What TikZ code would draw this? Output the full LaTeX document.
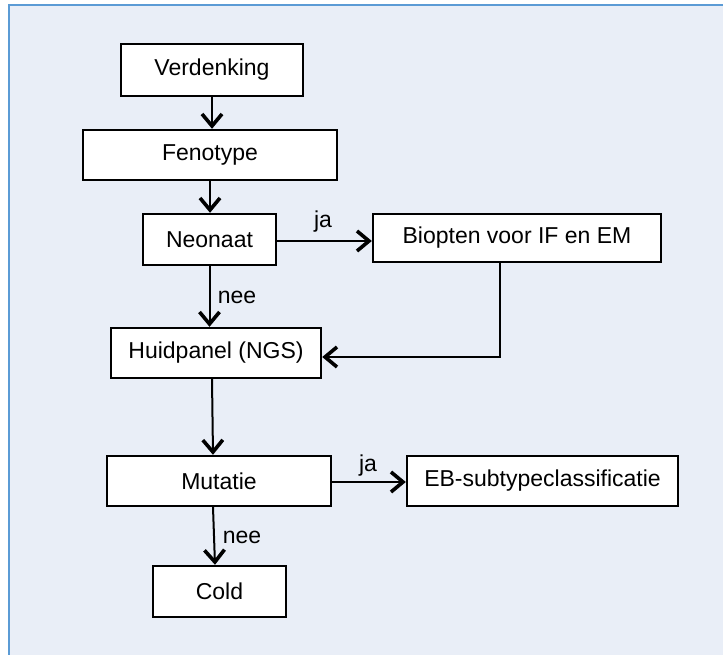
\documentclass[tikz,border=0pt]{standalone}
\usepackage{fontspec}
\setmainfont{Liberation Sans}
\usetikzlibrary{arrows.meta,calc}
\definecolor{bgblue}{RGB}{233,238,247}
\definecolor{frameblue}{RGB}{91,155,213}
\tikzset{
  box/.style={draw=black, fill=white, line width=2.4pt, rectangle, inner sep=0pt,
    font=\fontsize{23}{27}\selectfont},
  conn/.style={draw=black, line width=2pt,
    -{Straight Barb[length=12pt,width=20pt,line width=3.6pt]}},
  lbl/.style={font=\fontsize{23}{27}\selectfont, inner sep=0pt}
}
\begin{document}
\begin{tikzpicture}[x=1pt,y=-1pt]
\useasboundingbox (0,0) rectangle (723,655);
\fill[bgblue] (9,5) rectangle (723,655);
\draw[frameblue, line width=1.5pt] (9,655) -- (9,5) -- (723,5);

\node[box, minimum width=182, minimum height=52] (V) at (212,70) {Verdenking};
\node[box, minimum width=254, minimum height=50] (F) at (210,155) {Fenotype};
\node[box, minimum width=133, minimum height=51] (N) at (209.5,239.5) {Neonaat};
\node[box, minimum width=288, minimum height=48] (B) at (517,238) {Biopten voor IF en EM};
\node[box, minimum width=210, minimum height=50] (H) at (216,353) {Huidpanel (NGS)};
\node[box, minimum width=224, minimum height=50] (M) at (219,481) {Mutatie};
\node[box, minimum width=271, minimum height=50] (E) at (542.5,481) {EB-subtypeclassificatie};
\node[box, minimum width=133, minimum height=51] (C) at (219.5,591.5) {Cold};

\coordinate (bend) at (500,357);

\draw[conn] (V.south) -- (V.south |- F.north);
\draw[conn] (F.south) -- (F.south |- N.north);
\draw[conn] ($(N.east)+(0,1.5)$) -- ($(N.east -| B.west)+(0,1.5)$);
\draw[conn] (N.south) -- (N.south |- H.north);
\draw[conn] (B.south -| bend) -- (bend) -- (bend -| H.east);
\draw[conn] ($(H.south)+(-4,0)$) -- ($(M.north)+(-6,0)$);
\draw[conn] ($(M.east)+(0,1)$) -- ($(M.east -| E.west)+(0,1)$);
\draw[conn] ($(M.south)+(-6,0)$) -- ($(C.north)+(-4.5,0)$);

\node[lbl] (ja1) at (323,222) {ja};
\node[lbl] (nee1) at (237,297) {nee};
\node[lbl] (ja2) at (368,466) {ja};
\node[lbl] (nee2) at (242,537) {nee};
\end{tikzpicture}
\end{document}
